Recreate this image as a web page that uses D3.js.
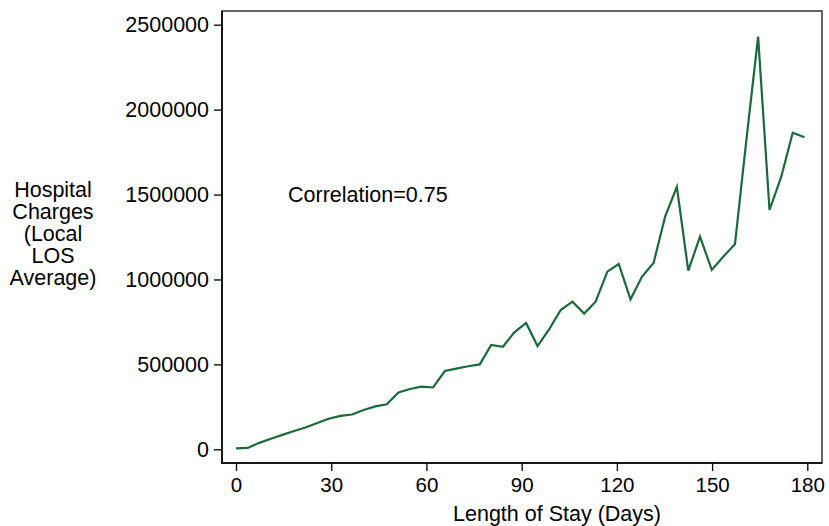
<!DOCTYPE html>
<html>
<head>
<meta charset="utf-8">
<script src="https://cdn.jsdelivr.net/npm/d3@7"></script>
<style>
  body { margin: 0; background: #fff; }
  text { font-family: "Liberation Sans", Arial, sans-serif; fill: #000; }
</style>
</head>
<body>
<svg id="chart" width="829" height="526"></svg>
<script>
// length of stay (days) for each point
const days = [0, 3.7, 7.3, 11.0, 14.6, 18.3, 21.9, 25.6, 29.2, 32.9,
  36.6, 40.2, 43.9, 47.5, 51.2, 54.8, 58.5, 62.1, 65.8, 69.4,
  73.1, 76.8, 80.4, 84.1, 87.7, 91.4, 95.0, 98.7, 102.3, 106.0,
  109.7, 113.3, 117.0, 120.6, 124.3, 127.9, 131.6, 135.2, 138.9, 142.5,
  146.2, 149.9, 153.5, 157.2, 160.8, 164.5, 168.1, 171.8, 175.4, 179.1];

// hospital charges, local LOS average
const charges = [5000, 8000, 38000, 62000, 85000, 108000, 128000, 155000, 180000, 197000,
  205000, 231000, 253000, 265000, 334000, 355000, 369000, 364000, 461000, 475000,
  489000, 500000, 614000, 604000, 689000, 744000, 608000, 708000, 820000, 869000,
  799000, 869000, 1046000, 1091000, 883000, 1016000, 1099000, 1370000, 1546000, 1052000,
  1252000, 1056000, 1134000, 1207000, 1820000, 2430000, 1409000, 1605000, 1864000, 1837000];

const xTicks = [0, 30, 60, 90, 120, 150, 180];
const yTicks = [0, 500000, 1000000, 1500000, 2000000, 2500000];
const yTitle = ['Hospital', 'Charges', '(Local', 'LOS', 'Average)'];
const xTitle = 'Length of Stay (Days)';
const note = 'Correlation=0.75';

const svg = d3.select('#chart');
const box = { left: 222, top: 11, right: 822, bottom: 463 };

const x = d3.scaleLinear().domain([0, 180]).range([236, 807.3]);
const y = d3.scaleLinear().domain([0, 2500000]).range([449.3, 24.7]);

// plot region frame
svg.append('rect')
  .attr('x', box.left)
  .attr('y', box.top)
  .attr('width', box.right - box.left)
  .attr('height', box.bottom - box.top)
  .attr('fill', 'none')
  .attr('stroke', '#333')
  .attr('stroke-width', 1.5);

const yAxis = svg.append('g')
  .attr('transform', `translate(${box.left},0)`)
  .call(d3.axisLeft(y).tickValues(yTicks).tickSize(8).tickPadding(5).tickFormat(d3.format('d')));

const xAxis = svg.append('g')
  .attr('transform', `translate(0,${box.bottom})`)
  .call(d3.axisBottom(x).tickValues(xTicks).tickSize(8).tickPadding(6).tickFormat(d3.format('d')));

[yAxis, xAxis].forEach(ax => {
  ax.select('.domain').remove();
  ax.selectAll('line').attr('stroke', '#000').attr('stroke-width', 1.3);
  ax.selectAll('text').attr('fill', '#000')
    .style('font-family', '"Liberation Sans", Arial, sans-serif');
});
yAxis.selectAll('text').attr('font-size', 21.5);
xAxis.selectAll('text').attr('font-size', 20.5);

// solid axis lines on left and bottom
svg.append('line')
  .attr('x1', box.left).attr('x2', box.left)
  .attr('y1', box.top).attr('y2', box.bottom + 0.75)
  .attr('stroke', '#000').attr('stroke-width', 1.5);
svg.append('line')
  .attr('x1', box.left - 0.75).attr('x2', box.right)
  .attr('y1', box.bottom).attr('y2', box.bottom)
  .attr('stroke', '#000').attr('stroke-width', 1.5);

const line = d3.line()
  .x((d, i) => x(days[i]))
  .y(d => y(d));

svg.append('path')
  .datum(charges)
  .attr('d', line)
  .attr('fill', 'none')
  .attr('stroke', '#1a6a3a')
  .attr('stroke-width', 2.2)
  .attr('stroke-linejoin', 'miter');

svg.append('text')
  .attr('x', x(16.4))
  .attr('y', y(1500000))
  .attr('dy', '0.35em')
  .attr('font-size', 21.5)
  .text(note);

svg.append('text')
  .attr('x', 557)
  .attr('y', 521)
  .attr('text-anchor', 'middle')
  .attr('font-size', 21.5)
  .text(xTitle);

svg.append('g')
  .selectAll('text')
  .data(yTitle)
  .enter().append('text')
  .attr('x', 53)
  .attr('y', (d, i) => 197 + i * 22)
  .attr('text-anchor', 'middle')
  .attr('font-size', 21.5)
  .text(d => d);
</script>
</body>
</html>
